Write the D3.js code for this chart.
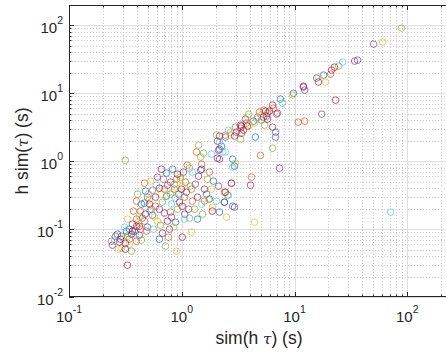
<!DOCTYPE html>
<html><head><meta charset="utf-8">
<script src="https://cdn.jsdelivr.net/npm/d3@7"></script>
<style>body{margin:0;background:#fff}svg{display:block}</style>
</head><body>
<svg id="c" width="446" height="354"></svg>
<script>
// ---- data ----
const xTicks = [0.1, 1, 10, 100];
const xTickExp = ["-1", "0", "1", "2"];
const yTicks = [0.01, 0.1, 1, 10, 100];
const yTickExp = ["-2", "-1", "0", "1", "2"];
const seriesColors = ["#0072BD", "#D95319", "#EDB120", "#7E2F8E", "#77AC30", "#4DBEEE", "#A2142F"];

const s1x = [15.7, 18.1, 9.8, 7.5, 6.8, 4.5, 2.82, 2.82, 5.3, 4.33, 2.44, 2.25, 1.5, 2.94, 1.66, 1.76, 2.39, 0.83, 2.16, 1.38, 0.88, 0.94, 1.91, 0.258, 0.323, 0.476, 0.292, 0.38, 0.496, 0.343, 0.448, 0.732, 0.55, 0.439, 0.634, 0.732, 0.467];
const s1y = [16.7, 18.5, 10.0, 8.2, 2.67, 2.26, 1.07, 0.217, 4.45, 3.88, 2.26, 1.66, 0.762, 0.844, 0.327, 0.276, 0.249, 0.762, 0.178, 0.14, 0.126, 0.327, 0.508, 0.0786, 0.0931, 0.362, 0.0786, 0.0931, 0.107, 0.0997, 0.145, 0.305, 0.16, 0.233, 0.071, 0.666, 0.241];

const s2x = [20.9, 6.51, 6.92, 10.8, 12.3, 4.99, 4.15, 2.39, 4.89, 5.31, 5.76, 4.69, 3.75, 5.09, 2.99, 2.44, 3.32, 1.35, 1.12, 1.76, 2.76, 1.59, 0.897, 1.06, 1.24, 0.794, 1.5, 1.08, 1.22, 0.861, 0.238, 0.397, 0.397, 0.397, 0.55, 0.538, 0.467, 0.343, 0.43, 0.584, 0.702, 0.43, 0.486, 0.373, 0.496, 0.762, 0.688, 0.467];
const s2y = [19.1, 6.03, 4.92, 3.75, 3.88, 1.22, 0.581, 0.349, 5.27, 5.64, 5.09, 4.45, 3.63, 4.02, 3.17, 2.42, 3.06, 1.36, 0.873, 0.689, 0.474, 0.258, 0.543, 0.295, 0.258, 0.178, 0.903, 0.491, 0.387, 0.387, 0.0664, 0.0664, 0.14, 0.258, 0.374, 0.196, 0.131, 0.071, 0.0997, 0.217, 0.387, 0.184, 0.0931, 0.184, 0.295, 0.076, 0.543, 0.474];

const s3x = [60.4, 16.3, 18.8, 9.6, 2.99, 4.42, 5.09, 3.99, 4.42, 2.7, 2.7, 3.83, 1.01, 0.827, 2.49, 1.72, 1.83, 1.22, 0.897, 0.974, 1.87, 0.292, 0.304, 0.33, 0.517, 0.573, 0.274, 0.413, 0.66, 0.609, 0.343, 0.421, 0.844, 0.528];
const s3y = [56.6, 17.3, 14.6, 9.38, 0.934, 0.126, 4.76, 3.39, 3.63, 2.67, 2.42, 4.45, 0.428, 0.349, 0.15, 0.276, 0.387, 0.09, 0.0473, 0.543, 0.21, 0.0523, 0.0734, 0.14, 0.276, 0.15, 0.0506, 0.126, 0.327, 0.131, 0.06, 0.155, 0.107, 0.508];

const s4x = [50.2, 34.1, 36.2, 12.0, 12.3, 7.06, 17.4, 6.78, 7.36, 2.76, 2.39, 2.94, 5.64, 3.67, 2.07, 2.16, 3.05, 3.32, 2.12, 2.16, 1.035, 2.12, 1.15, 1.06, 1.47, 0.81, 1.1, 1.32, 0.794, 0.243, 0.28, 0.269, 0.316, 0.365, 0.634, 0.747, 0.702, 0.421, 0.778, 0.609];
const s4y = [52.8, 29.7, 30.7, 12.3, 11.1, 5.09, 4.92, 2.26, 0.788, 0.474, 0.249, 0.21, 4.6, 4.15, 1.97, 1.5, 2.67, 3.39, 1.45, 1.07, 0.689, 0.428, 0.196, 0.166, 0.737, 0.15, 0.349, 0.458, 0.491, 0.0579, 0.0642, 0.0841, 0.062, 0.118, 0.196, 0.443, 0.172, 0.0813, 0.0997, 0.581];

const s5x = [88.9, 24.6, 3.91, 5.42, 6.38, 2.54, 2.03, 3.32, 1.41, 1.56, 1.47, 0.316, 1.17, 1.69, 1.53, 0.861, 1.3, 1.19, 1.17, 0.717, 0.916, 0.974, 0.358, 0.439, 0.33, 0.674, 0.647, 0.794, 0.405];
const s5y = [91, 25.1, 4.92, 3.39, 1.55, 0.316, 2.42, 2.11, 1.72, 1.31, 1.15, 1.03, 0.788, 0.543, 0.166, 0.458, 0.196, 0.428, 0.145, 0.056, 0.196, 0.581, 0.0473, 0.0687, 0.0786, 0.249, 0.114, 0.327, 0.327];

const s6x = [26.7, 7.82, 2.44, 2.82, 2.59, 71.1, 4.6, 2.16, 2.59, 1.83, 2.3, 1.24, 2.03, 0.81, 1.06, 0.879, 1.5, 0.31, 0.253, 0.517, 0.596, 0.388, 0.561, 0.507];
const s6y = [28.7, 7.15, 1.36, 0.816, 0.316, 0.178, 4.15, 1.9, 2.86, 1.27, 1.36, 0.689, 0.258, 0.233, 0.14, 0.285, 0.233, 0.107, 0.0664, 0.184, 0.443, 0.0813, 0.0997, 0.327];

const s7x = [22.6, 21.3, 16.3, 12.0, 23.1, 6.38, 6.38, 4.07, 5.53, 6.0, 5.76, 3.38, 2.94, 3.38, 2.16, 3.53, 3.83, 2.07, 1.41, 2.44, 0.994, 0.954, 1.87, 1.59, 1.01, 0.916, 1.01, 1.38, 0.33, 0.365, 0.421, 0.634, 0.358, 0.397, 0.286, 0.476, 0.584, 0.517, 0.747, 0.316, 0.674, 0.66];
const s7y = [24.2, 21.9, 14.6, 12.7, 7.91, 6.68, 3.17, 0.443, 5.45, 5.45, 4.15, 3.28, 2.34, 2.58, 2.34, 2.86, 3.28, 1.11, 0.601, 0.349, 0.387, 0.249, 0.184, 0.387, 0.076, 0.644, 0.217, 0.295, 0.0294, 0.0931, 0.11, 0.4, 0.0841, 0.11, 0.071, 0.166, 0.295, 0.233, 0.131, 0.0506, 0.087, 0.762];

const xLabel = "sim(h ", xLabelTau = "τ", xLabelEnd = ") (s)";
const yLabel = "h sim(", yLabelTau = "τ", yLabelEnd = ") (s)";

// ---- layout ----
const W = 446, H = 354;
const L = 69, T = 5, B = 297, R = 446;
const FONT = "'Liberation Sans', Arial, Helvetica, sans-serif";
const AX = "#262626";

const x = d3.scaleLog().domain([0.1, 100]).range([L, 407.3]);
const y = d3.scaleLog().domain([0.01, 100]).range([B, 25.3]);

const svg = d3.select("#c");
svg.append("rect").attr("width", W).attr("height", H).attr("fill", "#fff");

const minorX = [], minorY = [];
for (let k = -1; k <= 2; k++) for (let m = 2; m <= 9; m++) {
  const v = m * Math.pow(10, k);
  if (x(v) <= R) minorX.push(v);
}
for (let k = -2; k <= 2; k++) for (let m = 2; m <= 9; m++) {
  const v = m * Math.pow(10, k);
  if (y(v) >= T) minorY.push(v);
}

const grid = svg.append("g");
grid.selectAll(".mgx").data(minorX).enter().append("line")
  .attr("x1", d => Math.round(x(d)) + 0.5).attr("x2", d => Math.round(x(d)) + 0.5)
  .attr("y1", T).attr("y2", B)
  .attr("stroke", "#cdcdcd").attr("stroke-width", 1).attr("stroke-dasharray", "1,2");
grid.selectAll(".mgy").data(minorY).enter().append("line")
  .attr("y1", d => Math.round(y(d)) + 0.5).attr("y2", d => Math.round(y(d)) + 0.5)
  .attr("x1", L).attr("x2", R)
  .attr("stroke", "#cdcdcd").attr("stroke-width", 1).attr("stroke-dasharray", "1,2");
grid.selectAll(".gx").data(xTicks).enter().append("line")
  .attr("x1", d => Math.round(x(d)) + 0.5).attr("x2", d => Math.round(x(d)) + 0.5)
  .attr("y1", T).attr("y2", B).attr("stroke", "#dedede").attr("stroke-width", 1);
grid.selectAll(".gy").data(yTicks).enter().append("line")
  .attr("y1", d => Math.round(y(d)) + 0.5).attr("y2", d => Math.round(y(d)) + 0.5)
  .attr("x1", L).attr("x2", R).attr("stroke", "#dedede").attr("stroke-width", 1);

svg.append("clipPath").attr("id", "clip").append("rect")
  .attr("x", L).attr("y", T).attr("width", R - L).attr("height", B - T);

const series = [[s1x, s1y], [s2x, s2y], [s3x, s3y], [s4x, s4y], [s5x, s5y], [s6x, s6y], [s7x, s7y]];
const pts = svg.append("g").attr("clip-path", "url(#clip)");
series.forEach((s, i) => {
  const data = s[0].map((v, j) => ({ x: v, y: s[1][j] }));
  pts.append("g").selectAll("circle").data(data).enter().append("circle")
    .attr("cx", d => x(d.x)).attr("cy", d => y(d.y)).attr("r", 3.3)
    .attr("fill", "none").attr("stroke", seriesColors[i]).attr("stroke-width", 0.75)
    .attr("stroke-opacity", 0.9);
});

const ax = svg.append("g").attr("stroke", AX).attr("stroke-width", 1);
ax.append("line").attr("x1", L).attr("x2", R).attr("y1", T + 0.5).attr("y2", T + 0.5);
ax.append("line").attr("x1", L).attr("x2", R).attr("y1", B - 0.5).attr("y2", B - 0.5);
ax.append("line").attr("x1", L + 0.5).attr("x2", L + 0.5).attr("y1", T).attr("y2", B);

function xt(vals, len) {
  vals.forEach(v => {
    const px = Math.round(x(v)) + 0.5;
    ax.append("line").attr("x1", px).attr("x2", px).attr("y1", B).attr("y2", B - len);
    ax.append("line").attr("x1", px).attr("x2", px).attr("y1", T).attr("y2", T + len);
  });
}
function yt(vals, len) {
  vals.forEach(v => {
    const py = Math.round(y(v)) + 0.5;
    ax.append("line").attr("x1", L).attr("x2", L + len).attr("y1", py).attr("y2", py);
  });
}
xt(xTicks, 5); xt(minorX, 2.5);
yt(yTicks, 5); yt(minorY, 2.5);

xTicks.forEach((v, i) => {
  const t = svg.append("text").attr("x", x(v)).attr("y", 322)
    .attr("text-anchor", "middle").attr("font-family", FONT).attr("font-size", 15).attr("fill", AX);
  t.append("tspan").text("10");
  t.append("tspan").attr("dy", -9).attr("font-size", 10.5).text(xTickExp[i]);
});
yTicks.forEach((v, i) => {
  const t = svg.append("text").attr("x", 63).attr("y", y(v) + 7.5)
    .attr("text-anchor", "end").attr("font-family", FONT).attr("font-size", 15).attr("fill", AX);
  t.append("tspan").text("10");
  t.append("tspan").attr("dy", -8.5).attr("font-size", 10.5).text(yTickExp[i]);
});

const xl = svg.append("text").attr("x", 259).attr("y", 344)
  .attr("text-anchor", "middle").attr("font-family", FONT).attr("font-size", 17.5).attr("fill", AX);
xl.append("tspan").text(xLabel);
xl.append("tspan").attr("font-style", "italic").attr("font-family", "'DejaVu Serif', serif").attr("font-size", 15).text(xLabelTau);
xl.append("tspan").text(xLabelEnd);

const yl = svg.append("text").attr("transform", `translate(28,${(T + B) / 2}) rotate(-90)`)
  .attr("text-anchor", "middle").attr("font-family", FONT).attr("font-size", 17.5).attr("fill", AX);
yl.append("tspan").text(yLabel);
yl.append("tspan").attr("font-style", "italic").attr("font-family", "'DejaVu Serif', serif").attr("font-size", 15).text(yLabelTau);
yl.append("tspan").text(yLabelEnd);
</script>
</body></html>
